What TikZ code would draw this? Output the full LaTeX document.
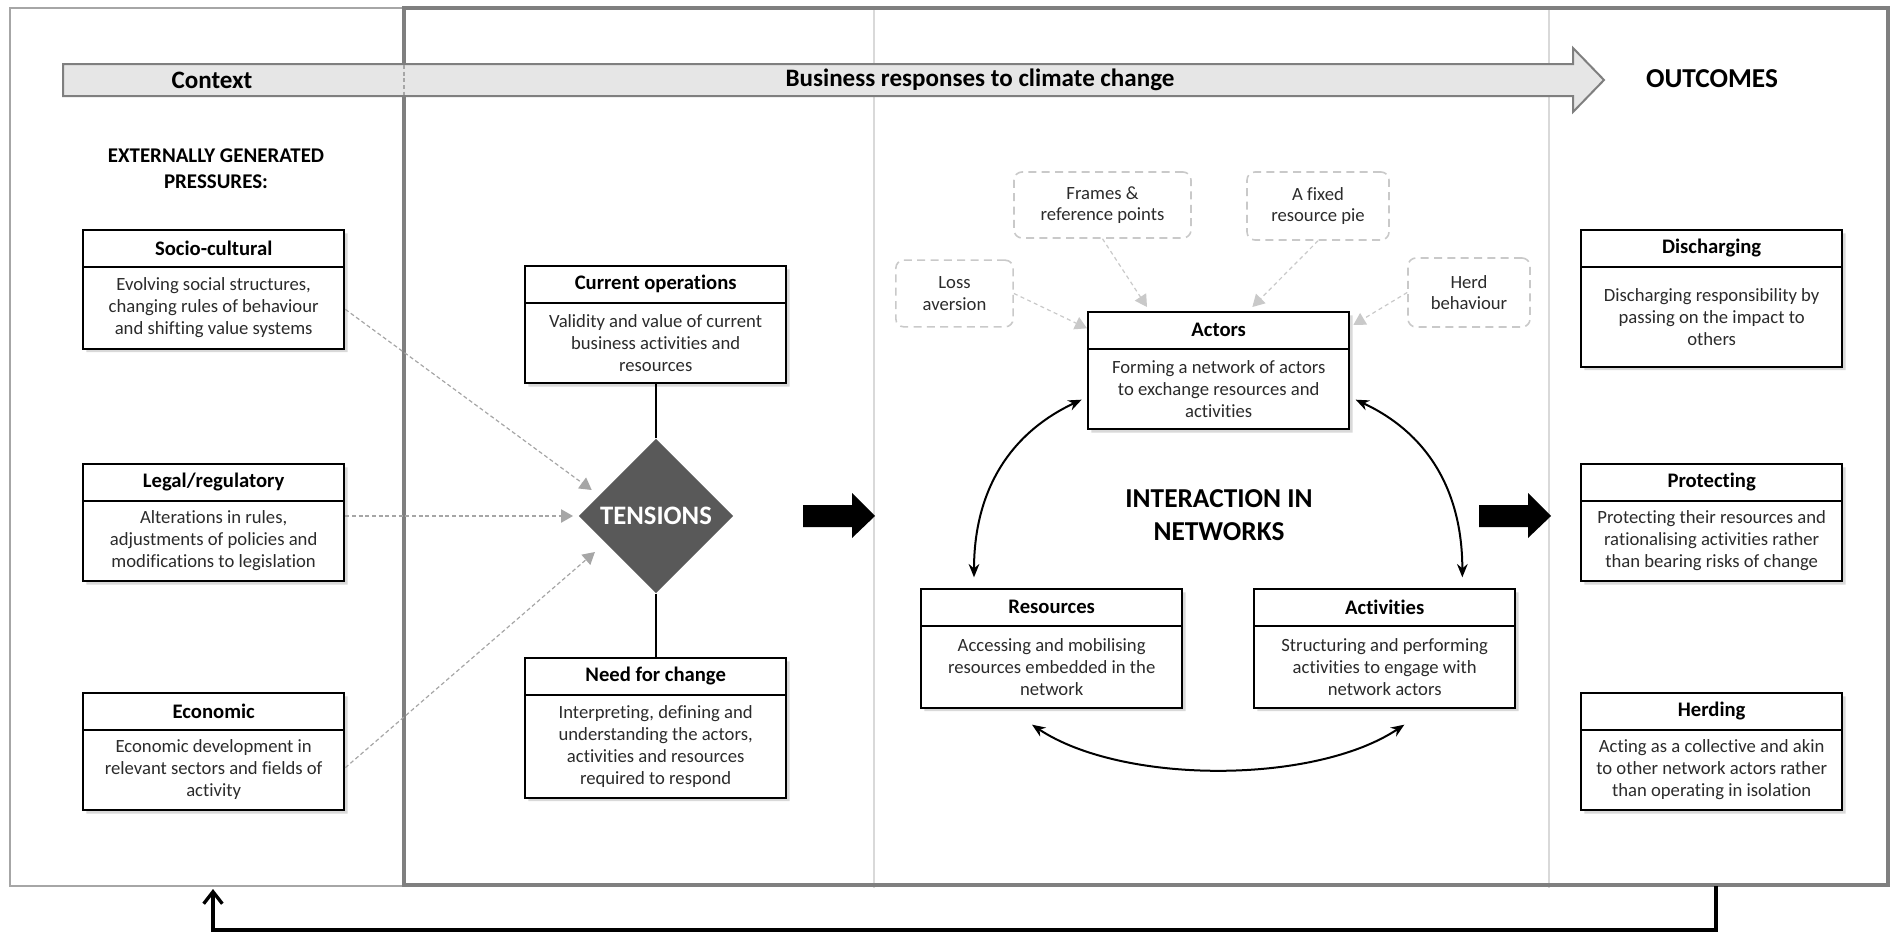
\documentclass[tikz,border=0pt]{standalone}
\usepackage{fontspec}
\setmainfont{Carlito}[Ligatures=NoCommon]
\usetikzlibrary{shapes,arrows.meta,shadows}

\definecolor{framegray}{HTML}{7F7F7F}
\definecolor{ctxgray}{HTML}{A6A6A6}
\definecolor{divgray}{HTML}{D9D9D9}
\definecolor{bandfill}{HTML}{E6E6E6}
\definecolor{tensfill}{HTML}{595959}
\definecolor{biasgray}{HTML}{C9C9C9}
\definecolor{txtgray}{HTML}{2B2B2B}

% header and body parts of the boxes
\newcommand{\hd}[1]{\parbox[c][26pt][c]{196pt}{\centering\fontsize{15.5}{18}\selectfont\bfseries #1}}
\newcommand{\bd}[2]{\parbox[c][#1][c]{196pt}{\centering\fontsize{14}{16.5}\selectfont\color{txtgray}#2}}

\begin{document}
\begin{tikzpicture}[x=0.75pt,y=-0.75pt]
        \tikzstyle{fbox}=[rectangle split, rectangle split parts=2, draw, line width=1.5pt, inner sep=0pt, fill=white, anchor=north west, drop shadow={shadow xshift=2.5pt,shadow yshift=-2.5pt,opacity=0.3}]
        \tikzstyle{bias}=[draw=biasgray, dash pattern=on 6pt off 4pt, line width=1.2pt, rounded corners=6pt, align=center, text=txtgray, font=\fontsize{14}{16}\selectfont, inner sep=0pt]
        \tikzstyle{nudge}=[biasgray, dash pattern=on 3pt off 2.5pt, line width=0.9pt, -{Triangle[length=9pt,width=10pt]}]
        \tikzstyle{press}=[ctxgray, dash pattern=on 3pt off 2pt, line width=0.9pt, -{Triangle[length=9pt,width=10pt]}]
        \tikzstyle{link}=[line width=1.5pt, {Stealth[length=10pt,width=8pt]}-{Stealth[length=10pt,width=8pt]}]
        \useasboundingbox (0,0) rectangle (1891,932);

        % frames
        \draw[ctxgray, line width=1.2pt] (10,8) rectangle (404,886);
        \draw[divgray, line width=0.8pt] (874,8) -- (874,888) (1549,8) -- (1549,888);
        \draw[framegray, line width=3pt] (404,8) rectangle (1888,885);

        % top band
        \draw[framegray, fill=bandfill, line width=1.5pt] (63,64) -- (1573,64) -- (1573,48) -- (1604,80) -- (1573,112) -- (1573,96) -- (63,96) -- cycle;
        \draw[ctxgray, dash pattern=on 3pt off 2pt, line width=0.8pt] (404,65) -- (404,95);
        \node[font=\fontsize{18.8}{22}\selectfont\bfseries] (ctx) at (212,80) {Context};
        \node[font=\fontsize{18.8}{22}\selectfont\bfseries] (biz) at (980,80) {Business responses to climate change};
        \node[font=\fontsize{20.5}{24}\selectfont\bfseries] (outc) at (1712,79) {OUTCOMES};

        % context
        \node[font=\fontsize{15.7}{19.5}\selectfont\bfseries, align=center] (ext) at (216,169) {EXTERNALLY GENERATED\\PRESSURES:};
        \node[fbox] (socio) at (82,229) {\hd{Socio-cultural}\nodepart{two}\bd{60pt}{Evolving social structures,\\changing rules of behaviour\\and shifting value systems}};
        \node[fbox] (legal) at (82,463) {\hd{Legal/regulatory}\nodepart{two}\bd{59pt}{Alterations in rules,\\adjustments of policies and\\modifications to legislation}};
        \node[fbox] (econ) at (82,692) {\hd{Economic}\nodepart{two}\bd{59pt}{Economic development in\\relevant sectors and fields of\\activity}};

        % tensions
        \node[fbox] (curops) at (524,265) {\hd{Current operations}\nodepart{two}\bd{59pt}{Validity and value of current\\business activities and\\resources}};
        \node[fbox] (need) at (524,657) {\hd{Need for change}\nodepart{two}\bd{75.75pt}{Interpreting, defining and\\understanding the actors,\\activities and resources\\required to respond}};
        \node[diamond, aspect=1, fill=tensfill, minimum size=116pt, inner sep=0pt, text=white, font=\fontsize{20}{24}\selectfont\bfseries] (tens) at (656,516) {TENSIONS};
        \draw[line width=1.5pt] (tens.north) -- (tens.north |- curops.south);
        \draw[line width=1.5pt] (tens.south) -- (tens.south |- need.north);
        \draw[press] ([yshift=-15pt]socio.east) -- ([xshift=10pt,yshift=19.5pt]tens.west);
        \draw[press] (legal.east |- tens.west) -- ([xshift=-4pt]tens.west);
        \draw[press] ([yshift=-12pt]econ.east) -- ([xshift=12.4pt,yshift=-27pt]tens.west);

        % block arrows
        \foreach \ax in {803,1479}
          \fill (\ax,505) -- ++(49,0) -- ++(0,-12) -- ++(23,23) -- ++(-23,22) -- ++(0,-11) -- ++(-49,0) -- cycle;

        % interaction in networks
        \node[bias, minimum width=88pt, minimum height=50pt] (loss) at (954.5,293.5) {Loss\\aversion};
        \node[bias, minimum width=132.75pt, minimum height=49.5pt] (frames) at (1102.5,205) {Frames \&\\reference points};
        \node[bias, minimum width=106.5pt, minimum height=51pt] (pie) at (1318,206) {A fixed\\resource pie};
        \node[bias, minimum width=91.5pt, minimum height=51.75pt] (herdb) at (1469,292.5) {Herd\\behaviour};
        \node[fbox] (actors) at (1087,311) {\hd{Actors}\nodepart{two}\bd{59pt}{Forming a network of actors\\to exchange resources and\\activities}};
        \node[fbox] (res) at (920,588) {\hd{Resources}\nodepart{two}\bd{60pt}{Accessing and mobilising\\resources embedded in the\\network}};
        \node[fbox] (acts) at (1253,588) {\hd{Activities}\nodepart{two}\bd{60pt}{Structuring and performing\\activities to engage with\\network actors}};
        \node[font=\fontsize{20.5}{24.75}\selectfont\bfseries, align=center] (inter) at (1219,515) {INTERACTION IN\\NETWORKS};
        \draw[nudge] (loss.east) -- ([yshift=-13pt]actors.north west);
        \draw[nudge] (frames.south) -- ([xshift=45pt,yshift=3pt]actors.north west);
        \draw[nudge] (pie.south) -- ([xshift=-73.5pt,yshift=3pt]actors.north east);
        \draw[nudge] (herdb.west) -- ([xshift=2.25pt,yshift=-10.5pt]actors.north east);
        \draw[link] ([xshift=40.5pt,yshift=8pt]res.north west) .. controls +(0,-83) and +(-75,35) .. ([xshift=-4pt,yshift=23pt]actors.south west);
        \draw[link] ([xshift=-40.5pt,yshift=8pt]acts.north east) .. controls +(0,-83) and +(75,35) .. ([xshift=4pt,yshift=23pt]actors.south east);
        \draw[link] ([xshift=84pt,yshift=-12pt]res.south west) .. controls +(90,60) and +(-90,60) .. ([xshift=-84pt,yshift=-12pt]acts.south east);

        % outcomes
        \node[fbox] (disch) at (1580,229) {\hd{Discharging}\nodepart{two}\bd{73.5pt}{Discharging responsibility by\\passing on the impact to\\others}};
        \node[fbox] (prot) at (1580,463) {\hd{Protecting}\nodepart{two}\bd{59pt}{Protecting their resources and\\rationalising activities rather\\than bearing risks of change}};
        \node[fbox] (herd) at (1580,692) {\hd{Herding}\nodepart{two}\bd{59pt}{Acting as a collective and akin\\to other network actors rather\\than operating in isolation}};

        % feedback loop
        \coordinate (loopout) at (1716,886);
        \coordinate (loopin) at (213,889);
        \draw[line width=2.5pt, -{Straight Barb[length=9pt,width=14pt]}] (loopout) -- (1716,930) -| (loopin);
\end{tikzpicture}
\end{document}
